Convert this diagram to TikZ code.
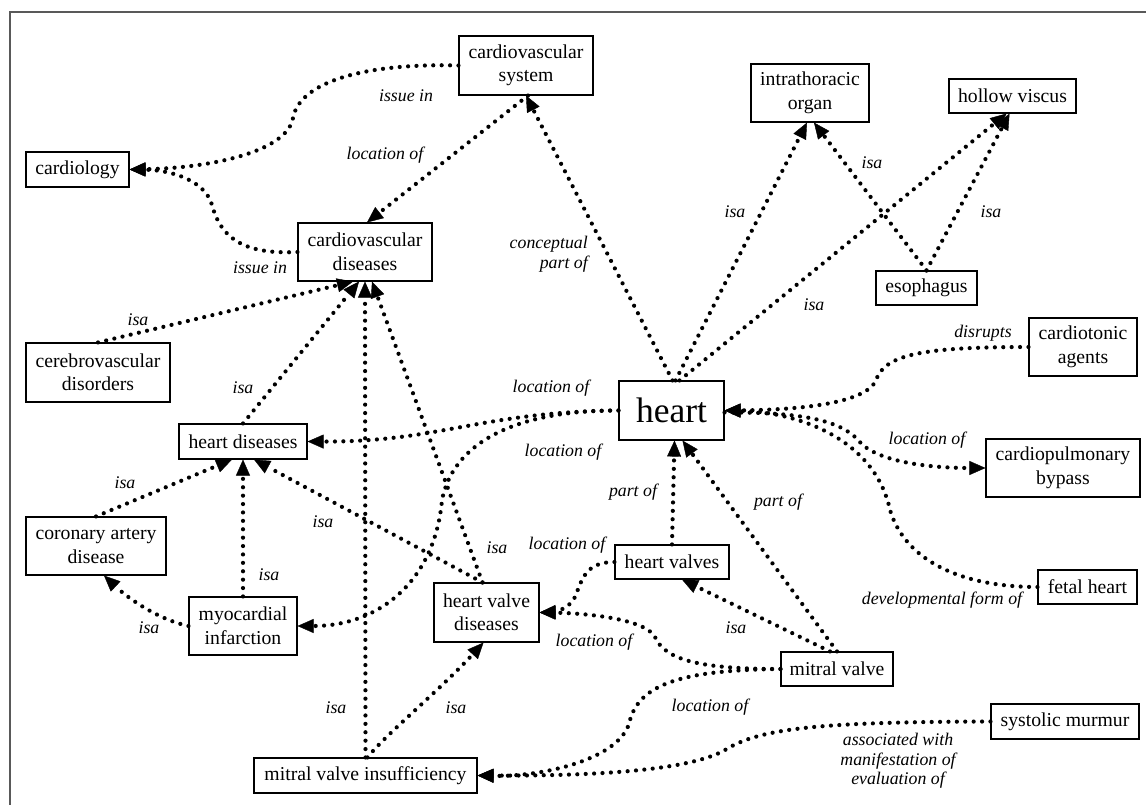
\documentclass[tikz,border=0pt]{standalone}
\usepackage{fontspec}
\setmainfont{Liberation Serif}
\usetikzlibrary{arrows.meta}
\newcommand\ndfont{\fontsize{19.7}{23.5}\selectfont}
\newcommand\lbfont{\itshape\fontsize{17.8}{19.5}\selectfont}
\tikzset{
  box/.style={draw, line width=1.1pt, inner sep=0pt, font=\ndfont, align=center},
  lab/.style={font=\lbfont, inner sep=0pt, align=center},
  rel/.style={line width=4.2pt, line cap=round, dash pattern=on 0pt off 8.4pt,
    -{Triangle[length=16pt,width=14pt,line width=0.4pt]}},
}
\begin{document}
\begin{tikzpicture}[x=1pt,y=-1pt]
\useasboundingbox (0,0) rectangle (1146,805);
\draw[black!65, line width=1.2pt] (10,806) -- (10,12) -- (1147,12);
% nodes
\node[box, minimum width=103pt, minimum height=35pt] (cardiology) at (77.5,169.5) {cardiology};
\node[box, minimum width=134pt, minimum height=59pt] (cvs) at (526,65.5) {cardiovascular\\system};
\node[box, minimum width=118pt, minimum height=58pt] (intra) at (810,93) {intrathoracic\\organ};
\node[box, minimum width=127pt, minimum height=34pt] (hollow) at (1012.5,96) {hollow viscus};
\node[box, minimum width=101pt, minimum height=34pt] (esoph) at (926.5,288) {esophagus};
\node[box, minimum width=108pt, minimum height=58pt] (cardiotonic) at (1083,347) {cardiotonic\\agents};
\node[box, minimum width=154pt, minimum height=58pt] (cpb) at (1063,468) {cardiopulmonary\\bypass};
\node[box, minimum width=99pt, minimum height=34pt] (fetal) at (1087.5,587) {fetal heart};
\node[box, minimum width=112pt, minimum height=34pt] (mv) at (837,669) {mitral valve};
\node[box, minimum width=148pt, minimum height=35pt] (sm) at (1065,721.5) {systolic murmur};
\node[box, minimum width=105pt, minimum height=59pt, font=\fontsize{35.5}{40}\selectfont] (heart) at (671.5,410.5) {heart};
\node[box, minimum width=114pt, minimum height=34pt] (hv) at (672,562) {heart valves};
\node[box, minimum width=105pt, minimum height=59pt] (hvd) at (486.5,612.5) {heart valve\\diseases};
\node[box, minimum width=223pt, minimum height=35pt] (mvi) at (365.5,775.5) {mitral valve insufficiency};
\node[box, minimum width=108pt, minimum height=58pt] (mi) at (243,626) {myocardial\\infarction};
\node[box, minimum width=140pt, minimum height=58pt] (cad) at (96,546) {coronary artery\\disease};
\node[box, minimum width=128pt, minimum height=35pt] (hd) at (243,441.5) {heart diseases};
\node[box, minimum width=144pt, minimum height=59pt] (cereb) at (98,372.5) {cerebrovascular\\disorders};
\node[box, minimum width=134pt, minimum height=58pt] (cvd) at (365,252) {cardiovascular\\diseases};
% edges
\draw[rel] (cvs.west) .. controls (370,63) and (300,80) .. (293,118) .. controls (287,152) and (210,168) .. (cardiology.east);
\draw[rel] (cvd.west) .. controls (240,255) and (220,235) .. (212,205) .. controls (205,180) and (170,170) .. (cardiology.east);
\draw[rel] ([xshift=2pt]cvs.south) -- ([xshift=2pt]cvd.north);
\draw[rel] ([xshift=1pt]heart.north) -- (cvs.south);
\draw[rel] ([xshift=4pt]heart.north) -- ([xshift=-3pt]intra.south);
\draw[rel] (esoph.north) -- ([xshift=4pt]intra.south);
\draw[rel] ([xshift=8pt]heart.north) -- ([xshift=-6pt]hollow.south);
\draw[rel] (esoph.north) -- ([xshift=-3pt]hollow.south);
\draw[rel] (cardiotonic.west) .. controls (920,347) and (885,355) .. (876,380) .. controls (866,405) and (790,410) .. (heart.east);
\draw[rel] ([yshift=-2pt]heart.east) .. controls (800,412) and (840,420) .. (858,440) .. controls (875,462) and (930,468) .. (cpb.west);
\draw[rel] (fetal.west) .. controls (960,587) and (905,560) .. (890,510) .. controls (875,440) and (800,412) .. (heart.east);
\draw[rel] (heart.west) .. controls (480,412) and (440,442) .. (hd.east);
\draw[rel] (heart.west) .. controls (530,410) and (455,435) .. (442,500) .. controls (435,580) and (380,626) .. (mi.east);
\draw[rel] (hv.north) -- ([xshift=3pt]heart.south);
\draw[rel] (mv.north) -- ([xshift=11pt]heart.south);
\draw[rel] ([xshift=-7pt]mv.north) -- ([xshift=10pt]hv.south);
\draw[rel] (hv.west) .. controls (585,562) and (582,580) .. (575,597) .. controls (570,608) and (555,612) .. (hvd.east);
\draw[rel] (mv.west) .. controls (700,669) and (665,660) .. (655,637) .. controls (645,618) and (580,613) .. (hvd.east);
\draw[rel] (mv.west) .. controls (680,670) and (640,685) .. (630,720) .. controls (622,760) and (540,777) .. (mvi.east);
\draw[rel] (sm.west) .. controls (820,722) and (760,728) .. (725,750) .. controls (690,770) and (600,776) .. (mvi.east);
\draw[rel] (hd.north) -- ([xshift=-6pt]cvd.south);
\draw[rel] (cereb.north) -- ([xshift=-12pt]cvd.south);
\draw[rel] (mvi.north) -- (cvd.south);
\draw[rel] ([xshift=-4pt]hvd.north) -- ([xshift=7pt]cvd.south);
\draw[rel] (cad.north) -- ([xshift=-11pt]hd.south);
\draw[rel] (mi.north) -- (hd.south);
\draw[rel] ([xshift=-4pt]hvd.north) -- ([xshift=11pt]hd.south);
\draw[rel] (mi.west) .. controls (160,620) and (130,600) .. ([xshift=8pt]cad.south);
\draw[rel] ([xshift=2pt]mvi.north) .. controls (385,735) and (440,690) .. ([xshift=-3pt]hvd.south);
% labels
\node[lab] (l1) at (406,96) {issue in};
\node[lab] (l2) at (260,268) {issue in};
\node[lab] (l3) at (385,155) {location of};
\node[lab, align=right, anchor=east] (l4) at (588,254) {conceptual\\part of};
\node[lab] (l5) at (735,212) {isa};
\node[lab] (l6) at (872,163) {isa};
\node[lab] (l7) at (814,305) {isa};
\node[lab] (l8) at (991,212) {isa};
\node[lab] (l9) at (983,333) {disrupts};
\node[lab] (l10) at (927,440) {location of};
\node[lab] (l11) at (942,600) {developmental form of};
\node[lab] (l12) at (551,388) {location of};
\node[lab] (l13) at (563,452) {location of};
\node[lab] (l14) at (633,492) {part of};
\node[lab] (l15) at (778,502) {part of};
\node[lab] (l16) at (736,628) {isa};
\node[lab] (l17) at (567,545) {location of};
\node[lab] (l18) at (594,642) {location of};
\node[lab] (l19) at (710,707) {location of};
\node[lab] (l20) at (898,761) {associated with\\manifestation of\\evaluation of};
\node[lab] (l21) at (243,388) {isa};
\node[lab] (l22) at (138,320) {isa};
\node[lab] (l23) at (336,708) {isa};
\node[lab] (l24) at (497,548) {isa};
\node[lab] (l25) at (125,483) {isa};
\node[lab] (l26) at (269,575) {isa};
\node[lab] (l27) at (323,522) {isa};
\node[lab] (l28) at (149,628) {isa};
\node[lab] (l29) at (456,708) {isa};
\end{tikzpicture}
\end{document}
